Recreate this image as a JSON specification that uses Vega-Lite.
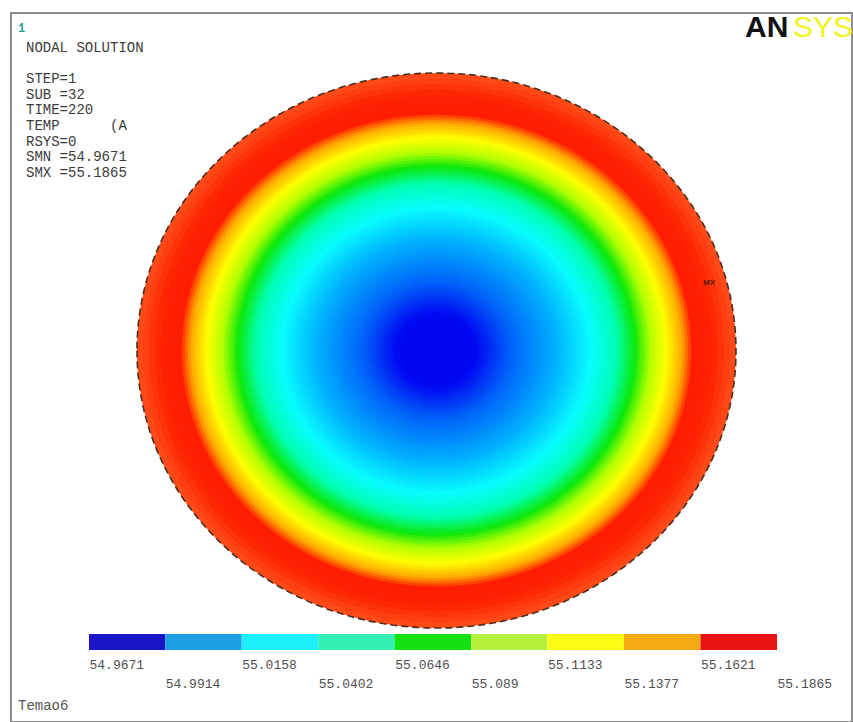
{
  "$schema": "https://vega.github.io/schema/vega-lite/v6.json",
  "width": 841,
  "height": 709,
  "autosize": {"type": "none"},
  "padding": {"left": 11, "top": 13, "right": 1, "bottom": 0},
  "background": "white",
  "config": {"view": {"stroke": "#8c8c8c", "strokeWidth": 2}},
  "datasets": {
    "rings": [
      {"r": 1.00, "temp": 55.1865}, {"r": 0.98, "temp": 55.1835}, {"r": 0.96, "temp": 55.1800},
      {"r": 0.94, "temp": 55.1770}, {"r": 0.92, "temp": 55.1755}, {"r": 0.90, "temp": 55.1748},
      {"r": 0.88, "temp": 55.1745}, {"r": 0.87, "temp": 55.1743}, {"r": 0.86, "temp": 55.1743},
      {"r": 0.85, "temp": 55.1673}, {"r": 0.84, "temp": 55.1604}, {"r": 0.83, "temp": 55.1534},
      {"r": 0.82, "temp": 55.1476}, {"r": 0.81, "temp": 55.1430}, {"r": 0.80, "temp": 55.1384},
      {"r": 0.79, "temp": 55.1338}, {"r": 0.78, "temp": 55.1292}, {"r": 0.77, "temp": 55.1246},
      {"r": 0.76, "temp": 55.1199}, {"r": 0.75, "temp": 55.1152}, {"r": 0.74, "temp": 55.1105},
      {"r": 0.73, "temp": 55.1058}, {"r": 0.72, "temp": 55.1011}, {"r": 0.71, "temp": 55.0964},
      {"r": 0.70, "temp": 55.0918}, {"r": 0.69, "temp": 55.0871}, {"r": 0.68, "temp": 55.0824},
      {"r": 0.67, "temp": 55.0777}, {"r": 0.66, "temp": 55.0737}, {"r": 0.65, "temp": 55.0698},
      {"r": 0.64, "temp": 55.0660}, {"r": 0.63, "temp": 55.0621}, {"r": 0.62, "temp": 55.0582},
      {"r": 0.61, "temp": 55.0543}, {"r": 0.60, "temp": 55.0510}, {"r": 0.59, "temp": 55.0481},
      {"r": 0.58, "temp": 55.0452}, {"r": 0.57, "temp": 55.0424}, {"r": 0.56, "temp": 55.0395},
      {"r": 0.55, "temp": 55.0366}, {"r": 0.54, "temp": 55.0337}, {"r": 0.53, "temp": 55.0309},
      {"r": 0.52, "temp": 55.0280}, {"r": 0.51, "temp": 55.0259}, {"r": 0.50, "temp": 55.0238},
      {"r": 0.49, "temp": 55.0216}, {"r": 0.48, "temp": 55.0195}, {"r": 0.47, "temp": 55.0174},
      {"r": 0.46, "temp": 55.0153}, {"r": 0.45, "temp": 55.0131}, {"r": 0.44, "temp": 55.0110},
      {"r": 0.43, "temp": 55.0089}, {"r": 0.42, "temp": 55.0068}, {"r": 0.41, "temp": 55.0047},
      {"r": 0.40, "temp": 55.0032}, {"r": 0.39, "temp": 55.0025}, {"r": 0.38, "temp": 55.0018},
      {"r": 0.37, "temp": 55.0010}, {"r": 0.36, "temp": 55.0003}, {"r": 0.35, "temp": 54.9995},
      {"r": 0.34, "temp": 54.9988}, {"r": 0.33, "temp": 54.9981}, {"r": 0.32, "temp": 54.9973},
      {"r": 0.31, "temp": 54.9966}, {"r": 0.30, "temp": 54.9958}, {"r": 0.29, "temp": 54.9951},
      {"r": 0.28, "temp": 54.9944}, {"r": 0.27, "temp": 54.9936}, {"r": 0.26, "temp": 54.9929},
      {"r": 0.25, "temp": 54.9920}, {"r": 0.24, "temp": 54.9909}, {"r": 0.23, "temp": 54.9898},
      {"r": 0.22, "temp": 54.9887}, {"r": 0.21, "temp": 54.9876}, {"r": 0.20, "temp": 54.9865},
      {"r": 0.19, "temp": 54.9854}, {"r": 0.18, "temp": 54.9843}, {"r": 0.17, "temp": 54.9832},
      {"r": 0.16, "temp": 54.9821}, {"r": 0.15, "temp": 54.9810}, {"r": 0.14, "temp": 54.9799},
      {"r": 0.12, "temp": 54.9780}, {"r": 0.10, "temp": 54.9760}, {"r": 0.08, "temp": 54.9740},
      {"r": 0.06, "temp": 54.9720}, {"r": 0.04, "temp": 54.9700}, {"r": 0.02, "temp": 54.9680}
    ],
    "bins": [
      {"bin": 1, "lo": 54.9671, "hi": 54.9914},
      {"bin": 2, "lo": 54.9914, "hi": 55.0158},
      {"bin": 3, "lo": 55.0158, "hi": 55.0402},
      {"bin": 4, "lo": 55.0402, "hi": 55.0646},
      {"bin": 5, "lo": 55.0646, "hi": 55.089},
      {"bin": 6, "lo": 55.089, "hi": 55.1133},
      {"bin": 7, "lo": 55.1133, "hi": 55.1377},
      {"bin": 8, "lo": 55.1377, "hi": 55.1621},
      {"bin": 9, "lo": 55.1621, "hi": 55.1865}
    ],
    "info": [
      {"line": 1, "text": "NODAL SOLUTION"},
      {"line": 3, "text": "STEP=1"},
      {"line": 4, "text": "SUB =32"},
      {"line": 5, "text": "TIME=220"},
      {"line": 6, "text": "TEMP\u00a0\u00a0\u00a0\u00a0\u00a0\u00a0(AVG)"},
      {"line": 7, "text": "RSYS=0"},
      {"line": 8, "text": "SMN =54.9671"},
      {"line": 9, "text": "SMX =55.1865"}
    ],
    "notes": [
      {"id": "win", "text": "1"},
      {"id": "logoA", "text": "AN"},
      {"id": "logoB", "text": "SYS"},
      {"id": "job", "text": "Temao6"},
      {"id": "mx", "text": "MX"}
    ]
  },
  "layer": [
    {
      "layer": [
        {
          "data": {"name": "rings"},
          "mark": {"type": "point", "shape": "M -1 0 A 1 0.9265 0 1 0 1 0 A 1 0.9265 0 1 0 -1 0 Z", "filled": true, "opacity": 1, "strokeWidth": 0},
          "encoding": {
            "x": {"datum": 0, "type": "quantitative", "scale": {"domain": [-1.4207, 1.38731]}, "axis": null},
            "y": {"datum": 0, "type": "quantitative", "scale": {"domain": [-1.33874, 1.21622]}, "axis": null},
            "size": {"field": "r", "type": "quantitative", "scale": {"type": "pow", "exponent": 2, "domain": [0, 1], "range": [0, 358801]}, "legend": null},
            "color": {"field": "temp", "type": "quantitative", "scale": {"type": "linear", "clamp": true, "interpolate": "rgb",
              "domain": [54.9793, 55.0036, 55.028, 55.0524, 55.0768, 55.1011, 55.1255, 55.1499, 55.1743, 55.1865],
              "range": ["#0006f2", "#00b2ff", "#08fcff", "#00ffb4", "#0ce80c", "#b4ff00", "#ffff00", "#ffa800", "#ff1e00", "#ff4a18"]}, "legend": null},
            "order": {"field": "r", "sort": "descending"}
          }
        },
        {
          "data": {"values": [{"r": 1}]},
          "mark": {"type": "point", "shape": "M -1 0 A 1 0.9265 0 1 0 1 0 A 1 0.9265 0 1 0 -1 0 Z", "filled": false, "opacity": 1, "stroke": "#4a2e1e", "strokeWidth": 1.6, "strokeDash": [7, 4]},
          "encoding": {
            "x": {"datum": 0, "type": "quantitative", "scale": {"domain": [-1.4207, 1.38731]}, "axis": null},
            "y": {"datum": 0, "type": "quantitative", "scale": {"domain": [-1.33874, 1.21622]}, "axis": null},
            "size": {"field": "r", "type": "quantitative", "scale": {"type": "pow", "exponent": 2, "domain": [0, 1], "range": [0, 358801]}, "legend": null}
          }
        },
        {
          "data": {"name": "notes"},
          "transform": [{"filter": "datum.id == 'mx'"}],
          "mark": {"type": "text", "font": "Liberation Sans", "fontSize": 8, "fontWeight": "bold", "color": "#5a1a0a", "align": "left", "baseline": "middle"},
          "encoding": {
            "x": {"datum": 0.8898, "type": "quantitative", "scale": {"domain": [-1.4207, 1.38731]}, "axis": null},
            "y": {"datum": 0.2432, "type": "quantitative", "scale": {"domain": [-1.33874, 1.21622]}, "axis": null},
            "text": {"field": "text"}
          }
        },
        {
          "data": {"name": "notes"},
          "transform": [{"filter": "datum.id == 'win'"}],
          "mark": {"type": "text", "font": "Liberation Mono", "fontSize": 12, "fontWeight": "bold", "color": "#2b9b9b", "align": "left", "baseline": "alphabetic"},
          "encoding": {
            "x": {"datum": -1.3973, "type": "quantitative", "scale": {"domain": [-1.4207, 1.38731]}, "axis": null},
            "y": {"datum": 1.1495, "type": "quantitative", "scale": {"domain": [-1.33874, 1.21622]}, "axis": null},
            "text": {"field": "text"}
          }
        },
        {
          "data": {"name": "notes"},
          "transform": [{"filter": "datum.id == 'job'"}],
          "mark": {"type": "text", "font": "Liberation Mono", "fontSize": 14, "color": "#555555", "align": "left", "baseline": "middle"},
          "encoding": {
            "x": {"datum": -1.3973, "type": "quantitative", "scale": {"domain": [-1.4207, 1.38731]}, "axis": null},
            "y": {"datum": -1.2811, "type": "quantitative", "scale": {"domain": [-1.33874, 1.21622]}, "axis": null},
            "text": {"field": "text"}
          }
        },
        {
          "data": {"name": "notes"},
          "transform": [{"filter": "datum.id == 'logoA'"}],
          "mark": {"type": "text", "font": "Liberation Sans", "fontSize": 30, "fontWeight": "bold", "color": "#111111", "align": "left", "baseline": "alphabetic"},
          "encoding": {
            "x": {"datum": 1.0301, "type": "quantitative", "scale": {"domain": [-1.4207, 1.38731]}, "axis": null},
            "y": {"datum": 1.1297, "type": "quantitative", "scale": {"domain": [-1.33874, 1.21622]}, "axis": null},
            "text": {"field": "text"}
          }
        },
        {
          "data": {"name": "notes"},
          "transform": [{"filter": "datum.id == 'logoB'"}],
          "mark": {"type": "text", "font": "Liberation Sans", "fontSize": 30, "color": "#f2f21e", "align": "left", "baseline": "alphabetic"},
          "encoding": {
            "x": {"datum": 1.1903, "type": "quantitative", "scale": {"domain": [-1.4207, 1.38731]}, "axis": null},
            "y": {"datum": 1.1297, "type": "quantitative", "scale": {"domain": [-1.33874, 1.21622]}, "axis": null},
            "text": {"field": "text"}
          }
        }
      ]
    },
    {
      "data": {"name": "bins"},
      "mark": {"type": "rect", "strokeWidth": 0},
      "encoding": {
        "x": {"field": "lo", "type": "quantitative", "scale": {"domain": [54.942226, 55.210417], "nice": false, "zero": false},
          "axis": {"orient": "bottom", "offset": -72, "values": [54.9671, 54.9914, 55.0158, 55.0402, 55.0646, 55.089, 55.1133, 55.1377, 55.1621, 55.1865],
            "labelExpr": "'' + datum.value", "domain": false, "ticks": false, "grid": false, "title": null,
            "labelAlign": "left", "labelBaseline": "top", "labelFont": "Liberation Mono", "labelFontSize": 13, "labelColor": "#505050",
            "labelFlush": false, "labelOverlap": false, "labelBound": false,
            "labelPadding": {"condition": {"test": "indexof([54.9914, 55.0402, 55.089, 55.1377, 55.1865], datum.value) >= 0", "value": 27}, "value": 8}}},
        "x2": {"field": "hi"},
        "y": {"datum": -1.02162, "type": "quantitative", "scale": {"domain": [-1.33874, 1.21622]}, "axis": null},
        "y2": {"datum": -1.07928},
        "color": {"field": "bin", "type": "ordinal", "scale": {"range": ["#1a16c8", "#1ea0e6", "#1ef0fa", "#32f0b4", "#14e114", "#b4f03c", "#fafa14", "#f5aa14", "#eb1414"]}, "legend": null}
      }
    },
    {
      "layer": [
        {
          "data": {"name": "info"},
          "transform": [{"filter": "datum.line == 1"}],
          "mark": {"type": "text", "font": "Liberation Mono", "fontSize": 14, "color": "#3c3c3c", "align": "left", "baseline": "middle"},
          "encoding": {
            "x": {"datum": -1.3706, "type": "quantitative", "scale": {"domain": [-1.4207, 1.38731]}, "axis": null},
            "y": {"field": "line", "type": "quantitative", "scale": {"domain": [-1.2, 43.96], "reverse": true, "nice": false, "zero": false}, "axis": null},
            "text": {"field": "text"}
          }
        },
        {
          "data": {"name": "info"},
          "transform": [{"filter": "datum.line > 1"}],
          "mark": {"type": "text", "font": "Liberation Mono", "fontSize": 14, "color": "#3c3c3c", "align": "left", "baseline": "middle", "limit": 104, "ellipsis": "\u200b"},
          "encoding": {
            "x": {"datum": -1.3706, "type": "quantitative", "scale": {"domain": [-1.4207, 1.38731]}, "axis": null},
            "y": {"field": "line", "type": "quantitative", "scale": {"domain": [-1.2, 43.96], "reverse": true, "nice": false, "zero": false}, "axis": null},
            "text": {"field": "text"}
          }
        }
      ]
    }
  ],
  "resolve": {"scale": {"x": "independent", "y": "independent", "color": "independent", "size": "independent"}, "axis": {"x": "independent", "y": "independent"}}
}
